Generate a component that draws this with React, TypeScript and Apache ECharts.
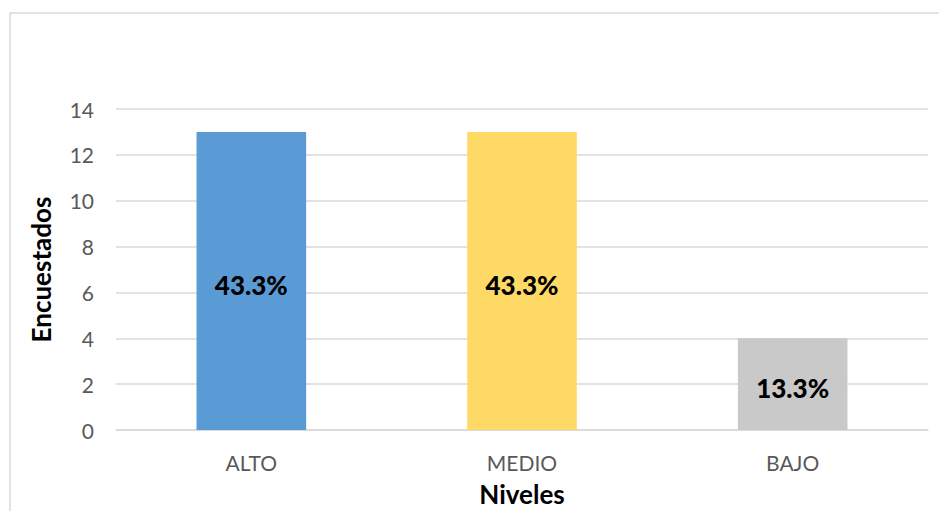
import React, { useEffect, useRef } from "react";
import * as echarts from "echarts";

const categories = ["ALTO", "MEDIO", "BAJO"];
const values = [13, 13, 4];
const barColors = ["#5B9BD5", "#FFD966", "#C9C9C9"];
const percentLabels = ["43.3%", "43.3%", "13.3%"];
const yAxisName = "Encuestados";
const xAxisName = "Niveles";

export default function App() {
  const ref = useRef<HTMLDivElement>(null);
  useEffect(() => {
    document.body.style.margin = "0";
    const chart = echarts.init(ref.current!, null, { renderer: "svg" });
    const font = "Lato, 'Open Sans', sans-serif";
    chart.setOption({
      animation: false,
      backgroundColor: "#ffffff",
      graphic: [
        {
          type: "rect",
          shape: { x: 10, y: 13, width: 940, height: 510 },
          style: { fill: "none", stroke: "#d9d9d9", lineWidth: 1.5 },
          silent: true,
        },
      ],
      grid: { left: 116, right: 11, top: 109, bottom: 81, containLabel: false, outerBoundsMode: "none" },
      xAxis: {
        type: "category",
        data: categories,
        name: xAxisName,
        nameLocation: "middle",
        nameGap: 51,
        nameTextStyle: { fontFamily: font, fontWeight: "bold", fontSize: 26, color: "#000", lineHeight: 26 },
        axisLine: { show: true, lineStyle: { color: "#d9d9d9", width: 1.5 } },
        axisTick: { show: false },
        axisLabel: { fontFamily: font, fontSize: 21, color: "#595959", margin: 22 },
      },
      yAxis: {
        type: "value",
        min: 0,
        max: 14,
        interval: 2,
        name: yAxisName,
        nameLocation: "middle",
        nameGap: 62,
        nameTextStyle: { fontFamily: font, fontWeight: "bold", fontSize: 26, color: "#000" },
        axisLine: { show: false },
        axisTick: { show: false },
        axisLabel: { fontFamily: font, fontSize: 21, color: "#595959", margin: 22 },
        splitLine: { lineStyle: { color: "#d9d9d9", width: 1.5 } },
      },
      series: [
        {
          type: "bar",
          barWidth: "40.5%",
          data: values.map((v, i) => ({ value: v, itemStyle: { color: barColors[i] } })),
          label: {
            show: true,
            position: "inside",
            formatter: (p: any) => percentLabels[p.dataIndex],
            fontFamily: font,
            fontWeight: 900,
            fontSize: 26,
            color: "#000",
            offset: [0, 4],
          },
        },
      ],
    });
    return () => chart.dispose();
  }, []);
  return <div ref={ref} style={{ width: 939, height: 511 }} />;
}
